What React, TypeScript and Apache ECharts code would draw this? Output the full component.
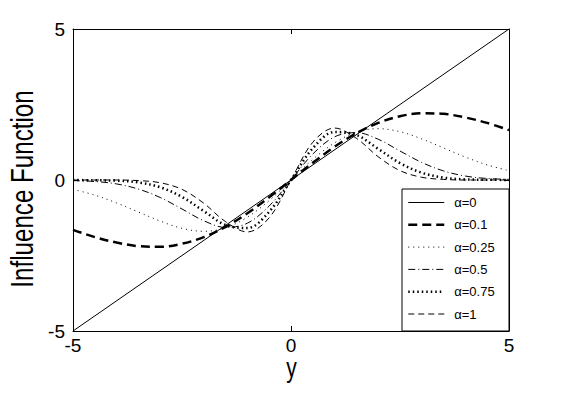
import React, { useEffect, useRef } from "react";
import * as echarts from "echarts";

const xs = [-5, -4.5, -4, -3.5, -3, -2.5, -2, -1.5, -1, -0.5, 0, 0.5, 1, 1.5, 2, 2.5, 3, 3.5, 4, 4.5, 5];

const alpha0X = [-5, 5];
const alpha0Y = [-5, 5];
const alpha01 = [-1.65, -1.89, -2.07, -2.19, -2.21, -2.11, -1.89, -1.55, -1.1, -0.57, 0, 0.57, 1.1, 1.55, 1.89, 2.11, 2.21, 2.19, 2.07, 1.89, 1.65];
const alpha025 = [-0.31, -0.5, -0.76, -1.06, -1.36, -1.6, -1.7, -1.58, -1.23, -0.68, 0, 0.68, 1.23, 1.58, 1.7, 1.6, 1.36, 1.06, 0.76, 0.5, 0.31];
const alpha05 = [-0.02, -0.05, -0.13, -0.3, -0.58, -0.96, -1.35, -1.57, -1.43, -0.86, 0, 0.86, 1.43, 1.57, 1.35, 0.96, 0.58, 0.3, 0.13, 0.05, 0.02];
const alpha075 = [0, -0.01, -0.02, -0.08, -0.24, -0.56, -1.03, -1.49, -1.59, -1.05, 0, 1.05, 1.59, 1.49, 1.03, 0.56, 0.24, 0.08, 0.02, 0.01, 0];
const alpha1 = [0, 0, 0, -0.02, -0.09, -0.31, -0.77, -1.38, -1.72, -1.25, 0, 1.25, 1.72, 1.38, 0.77, 0.31, 0.09, 0.02, 0, 0, 0];

const seriesNames = ["\u03b1=0", "\u03b1=0.1", "\u03b1=0.25", "\u03b1=0.5", "\u03b1=0.75", "\u03b1=1"];
const axisTicks = [-5, 0, 5];
const xTitle = "y";
const yTitle = "Influence Function";

const SANS = '"Liberation Sans", Arial, Helvetica, sans-serif';

export default function App() {
  const ref = useRef<HTMLDivElement>(null);
  useEffect(() => {
    if (!ref.current) return;
    const chart = echarts.init(ref.current, undefined, { renderer: "svg" });
    const pair = (vals: number[]) => xs.map((x, i) => [x, vals[i]]);
    const base = { type: "line", symbol: "none", smooth: 0.35, silent: true, z: 2 } as any;
    const axisCommon = {
      type: "value",
      min: axisTicks[0],
      max: axisTicks[axisTicks.length - 1],
      interval: 5,
      splitLine: { show: false },
      axisLine: { show: true, onZero: false, lineStyle: { color: "#000", width: 1 } },
      axisTick: { show: true, inside: true, length: 5, lineStyle: { color: "#000", width: 1 } },
    };
    chart.setOption({
      animation: false,
      backgroundColor: "#fff",
      grid: { left: 73, right: 53, top: 29, bottom: 65, containLabel: false },
      xAxis: [
        {
          ...axisCommon,
          position: "bottom",
          axisLabel: { show: true, color: "#000", fontSize: 19, fontFamily: SANS, margin: 5 },
        },
        {
          ...axisCommon,
          position: "top",
          axisLabel: { show: false },
        },
      ],
      yAxis: [
        {
          ...axisCommon,
          position: "left",
          axisLabel: { show: true, color: "#000", fontSize: 19, fontFamily: SANS, margin: 8 },
        },
        {
          ...axisCommon,
          position: "right",
          axisLabel: { show: false },
        },
      ],
      legend: {
        orient: "vertical",
        left: 402,
        top: 191,
        padding: 5,
        itemWidth: 36,
        itemHeight: 14,
        itemGap: 9.3,
        selectedMode: false,
        itemStyle: { opacity: 0, borderWidth: 0 },
        lineStyle: { width: "inherit", type: "inherit" },
        textStyle: { color: "#000", fontSize: 13, fontFamily: SANS, padding: [0, 0, 0, 5] },
        data: seriesNames,
        z: 10,
      },
      graphic: [
        {
          type: "rect",
          z: 5,
          shape: { x: 402, y: 189, width: 107, height: 142 },
          style: { fill: "#fff", stroke: "#000", lineWidth: 1 },
        },
        {
          type: "text",
          x: 22,
          y: 189,
          rotation: Math.PI / 2,
          scaleX: 0.78,
          style: {
            text: yTitle,
            fontSize: 31,
            fontFamily: SANS,
            fill: "#000",
            align: "center",
            verticalAlign: "middle",
          },
        },
        {
          type: "text",
          x: 291.5,
          y: 368,
          scaleX: 0.78,
          style: {
            text: xTitle,
            fontSize: 27,
            fontFamily: SANS,
            fill: "#000",
            align: "center",
            verticalAlign: "middle",
          },
        },
      ],
      series: [
        {
          ...base,
          name: seriesNames[0],
          smooth: false,
          data: alpha0X.map((x, i) => [x, alpha0Y[i]]),
          lineStyle: { color: "#000", width: 1, type: "solid" },
          itemStyle: { color: "#000" },
        },
        {
          ...base,
          name: seriesNames[1],
          data: pair(alpha01),
          lineStyle: { color: "#000", width: 2.5, type: [9, 5] },
          itemStyle: { color: "#000" },
        },
        {
          ...base,
          name: seriesNames[2],
          data: pair(alpha025),
          lineStyle: { color: "#000", width: 1, type: [1, 4] },
          itemStyle: { color: "#000" },
        },
        {
          ...base,
          name: seriesNames[3],
          data: pair(alpha05),
          lineStyle: { color: "#000", width: 1, type: [7, 3, 1, 3] },
          itemStyle: { color: "#000" },
        },
        {
          ...base,
          name: seriesNames[4],
          data: pair(alpha075),
          lineStyle: { color: "#000", width: 2.5, type: [1.5, 3] },
          itemStyle: { color: "#000" },
        },
        {
          ...base,
          name: seriesNames[5],
          data: pair(alpha1),
          lineStyle: { color: "#000", width: 1, type: [6, 4] },
          itemStyle: { color: "#000" },
        },
      ],
    } as any);
    return () => chart.dispose();
  }, []);
  return (
    <div
      ref={ref}
      style={{ position: "fixed", left: 0, top: 0, width: 562, height: 396, background: "#fff" }}
    />
  );
}
